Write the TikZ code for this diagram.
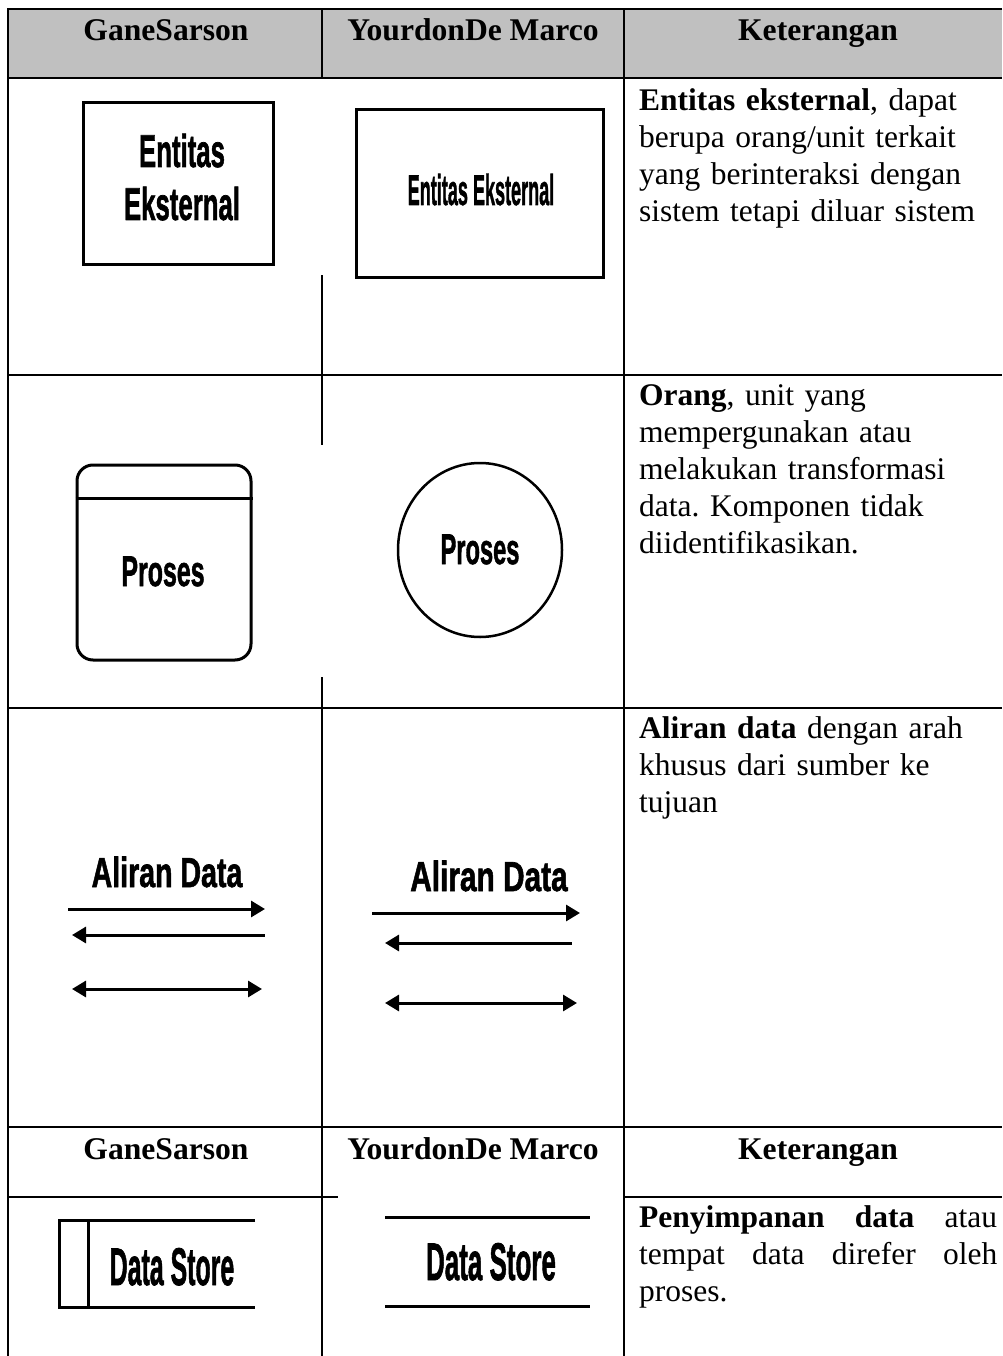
\documentclass[tikz,border=0pt]{standalone}
\usepackage{fontspec}
\usepackage{graphicx}
\usepackage{xcolor}
\setmainfont{Liberation Serif}
\newfontfamily\dfdfont[FakeBold=1.6]{Liberation Sans Bold}
\usetikzlibrary{arrows.meta,shapes.geometric}
\setlength{\parindent}{0pt}
\frenchspacing
\definecolor{headgray}{RGB}{192,192,192}
\newcommand{\dfdtxt}[2]{\scalebox{#1}[1]{#2}}
\tikzset{
  tablerule/.style={line width=2.5pt},
  symline/.style={draw,line width=3pt,inner sep=0pt},
  head/.style={anchor=base,inner sep=0pt,font=\bfseries\fontsize{31.6}{37}\selectfont},
  desc/.style={anchor=north west,inner sep=0pt,text width=358pt,align=left,
    font=\fontsize{31.5}{37}\selectfont},
  dfdlabel/.style={anchor=base,inner sep=0pt,font=\dfdfont\fontsize{#1}{#1}\selectfont},
}

\begin{document}
\begin{tikzpicture}[x=1pt,y=-1pt,>={Triangle[length=14pt,width=16pt]}]
  \useasboundingbox (0,0) rectangle (1002,1356);
  \fill[headgray] (8,9) rectangle (1002,78);
  \draw[tablerule] (1002,9) -- (8,9) -- (8,1356);
  \foreach \y in {78,375,708,1127}
    \draw[tablerule] (8,\y) -- (1002,\y);
  \draw[tablerule] (8,1197) -- (338,1197) (624,1197) -- (1002,1197);
  \draw[tablerule] (322,9) -- (322,78) (322,275) -- (322,445) (322,677) -- (322,1356);
  \draw[tablerule] (624,9) -- (624,1356);

  \node[head] (hGane) at (166,41) {GaneSarson};
  \node[head] (hYourdon) at (473,41) {YourdonDe Marco};
  \node[head] (hKet) at (818,41) {Keterangan};
  \node[head] (hGaneB) at (166,1159) {GaneSarson};
  \node[head] (hYourdonB) at (473,1159) {YourdonDe Marco};
  \node[head] (hKetB) at (818,1159) {Keterangan};

  % entitas eksternal
  \node[symline,minimum width=190pt,minimum height=161pt] (gsEntity) at (178,183.5) {};
  \node[dfdlabel=46] (gsEntityA) at (182,167) {\dfdtxt{.56}{Entitas}};
  \node[dfdlabel=46] (gsEntityB) at (182,220) {\dfdtxt{.56}{Eksternal}};
  \node[symline,minimum width=247pt,minimum height=167pt] (ydEntity) at (479.5,193.5) {};
  \node[dfdlabel=43] (ydEntityTxt) at (481,205) {\dfdtxt{.42}{Entitas Eksternal}};
  \node[desc] (ketEntity) at (639,88)
    {\textbf{Entitas eksternal}, dapat\\berupa orang/unit terkait\\yang berinteraksi dengan\\sistem tetapi diluar sistem};

  % proses
  \node[symline,rounded corners=16pt,minimum width=174pt,minimum height=195pt] (gsProcess) at (164,562.5) {};
  \draw[line width=3pt] ([yshift=-35pt]gsProcess.north west) -- ([yshift=-35pt]gsProcess.north east);
  \node[dfdlabel=43] (gsProcessTxt) at (163,586) {\dfdtxt{.58}{Proses}};
  \node[symline,ellipse,line width=2.5pt,minimum width=164pt,minimum height=174pt] (ydProcess) at (480,550) {};
  \node[dfdlabel=43] (ydProcessTxt) at (480,564) {\dfdtxt{.55}{Proses}};
  \node[desc] (ketProcess) at (639,384)
    {\textbf{Orang}, unit yang\\mempergunakan atau\\melakukan transformasi\\data. Komponen tidak\\diidentifikasikan.};

  % aliran data
  \node[dfdlabel=42] (gsFlowTxt) at (167,887) {\dfdtxt{.68}{Aliran Data}};
  \draw[->,line width=3pt] (68,909) -- (265,909);
  \draw[<-,line width=3pt] (72,935) -- (265,935);
  \draw[<->,line width=3pt] (72,989) -- (262,989);
  \node[dfdlabel=42] (ydFlowTxt) at (489,891) {\dfdtxt{.71}{Aliran Data}};
  \draw[->,line width=3pt] (372,913) -- (580,913);
  \draw[<-,line width=3pt] (385,943) -- (572,943);
  \draw[<->,line width=3pt] (385,1003) -- (577,1003);
  \node[desc] (ketFlow) at (639,716)
    {\textbf{Aliran data} dengan arah\\khusus dari sumber ke\\tujuan};

  % data store
  \draw[line width=3pt] (255,1220) -- (59,1220) -- (59,1307) -- (255,1307);
  \draw[line width=3pt] (88,1220) -- (88,1307);
  \node[dfdlabel=53] (gsStoreTxt) at (172,1285) {\dfdtxt{.47}{Data Store}};
  \draw[line width=3pt] (385,1217) -- (590,1217) (385,1306) -- (590,1306);
  \node[dfdlabel=53] (ydStoreTxt) at (491,1280) {\dfdtxt{.49}{Data Store}};
  \node[desc,align=justify] (ketStore) at (639,1205)
    {\textbf{Penyimpanan data} atau\linebreak tempat data direfer oleh\linebreak proses.};
\end{tikzpicture}
\end{document}
